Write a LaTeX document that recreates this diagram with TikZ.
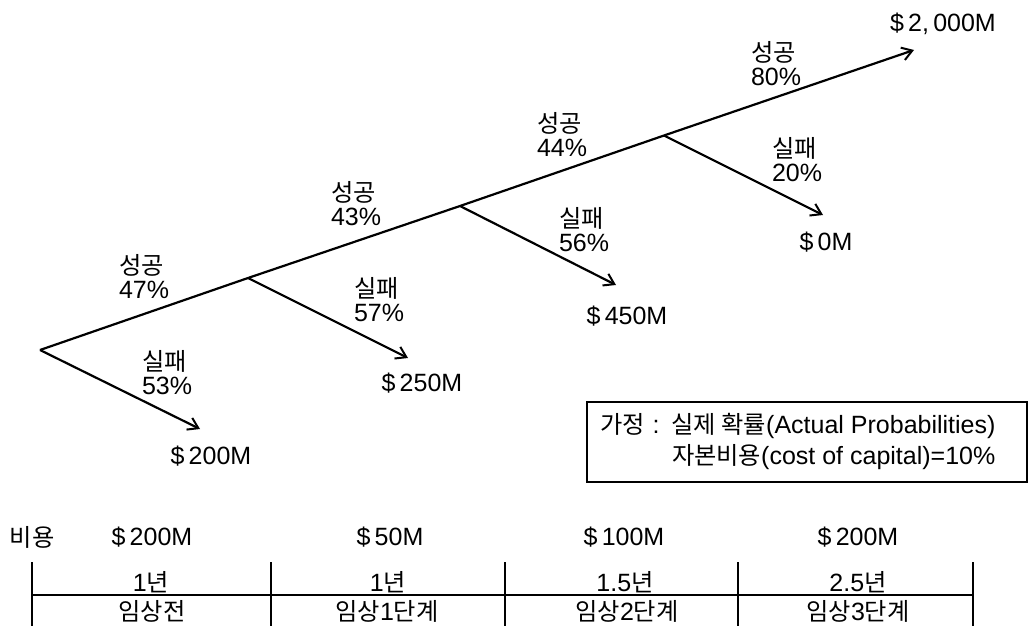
\documentclass[tikz,border=0pt]{standalone}
\usepackage{fontspec}
\setmainfont{Liberation Sans}
\newfontfamily\kr[Scale=0.97]{Noto Sans CJK KR}
\usetikzlibrary{arrows.meta}
\begin{document}
\begin{tikzpicture}[x=1pt,y=-1pt,
  every node/.style={inner sep=0pt, outer sep=0pt, font=\fontsize{25}{24}\selectfont},
  lbl/.style={anchor=west, align=left},
  arr/.style={line width=2.2pt, -{Straight Barb[length=10pt,width=13pt,line width=2pt]}},
  tl/.style={line width=2pt},
  hl/.style={line width=1.6pt}]
\useasboundingbox (0,0) rectangle (1029,626);
% tree junctions
\coordinate (r)  at (40,350);
\coordinate (b1) at (248,278);
\coordinate (b2) at (460,206);
\coordinate (b3) at (664,135.5);
\coordinate (t4) at (914,50);
\coordinate (f0) at (200,429);
\coordinate (f1) at (408,358);
\coordinate (f2) at (616,285);
\coordinate (f3) at (823,215);
% connectors
\draw[arr] (r) -- (b1) -- (b2) -- (b3) -- (t4);
\draw[arr] (r) -- (f0);
\draw[arr] (b1) -- (f1);
\draw[arr] (b2) -- (f2);
\draw[arr] (b3) -- (f3);
% branch labels
\node[lbl] (s1) at (119,277) {{\kr 성공}\\47\%};
\node[lbl] (s2) at (331,204) {{\kr 성공}\\43\%};
\node[lbl] (s3) at (537,135) {{\kr 성공}\\44\%};
\node[lbl] (s4) at (751,64)  {{\kr 성공}\\80\%};
\node[lbl] (p1) at (142,373) {{\kr 실패}\\53\%};
\node[lbl] (p2) at (354,300) {{\kr 실패}\\57\%};
\node[lbl] (p3) at (559,230) {{\kr 실패}\\56\%};
\node[lbl] (p4) at (772,160) {{\kr 실패}\\20\%};
% leaves
\node (l0) at (211,456) {\$\,200M};
\node (l1) at (422,383) {\$\,250M};
\node (l2) at (627,316) {\$\,450M};
\node (l3) at (826,242) {\$\,0M};
\node (l4) at (943,24)  {\$\,2,\,000M};
% assumption box
\node[draw, line width=1.4pt, minimum width=440pt, minimum height=80pt] (box) at (807,442) {};
\node[anchor=west] (a1) at (600,426) {{\kr 가정}\hspace{8pt}:\hspace{12pt}{\kr 실제 확률}(Actual Probabilities)};
\node[anchor=west] (a2) at (672,457) {{\kr 자본비용}(cost of capital)=10\%};
% cost row
\node (cost) at (32,537) {{\kr 비용}};
\node (c1) at (152,537) {\$\,200M};
\node (c2) at (390,537) {\$\,50M};
\node (c3) at (624,537) {\$\,100M};
\node (c4) at (858,537) {\$\,200M};
% timeline
\coordinate (v0t) at (32,562);  \coordinate (v0b) at (32,626);
\coordinate (v1t) at (271,562); \coordinate (v1b) at (271,626);
\coordinate (v2t) at (505,562); \coordinate (v2b) at (505,626);
\coordinate (v3t) at (738,562); \coordinate (v3b) at (738,626);
\coordinate (v4t) at (973,562); \coordinate (v4b) at (973,626);
\coordinate (h0) at (32,595);   \coordinate (h4) at (973,595);
\draw[tl] (v0t) -- (v0b);
\draw[tl] (v1t) -- (v1b);
\draw[tl] (v2t) -- (v2b);
\draw[tl] (v3t) -- (v3b);
\draw[tl] (v4t) -- (v4b);
\draw[hl] (h0) -- (h4);
\node (d1) at (151,582) {1{\kr 년}};
\node (d2) at (388,582) {1{\kr 년}};
\node (d3) at (625,582) {1.5{\kr 년}};
\node (d4) at (858,582) {2.5{\kr 년}};
\node (n1) at (152,611) {{\kr 임상전}};
\node (n2) at (387,611) {{\kr 임상}1{\kr 단계}};
\node (n3) at (627,611) {{\kr 임상}2{\kr 단계}};
\node (n4) at (858,611) {{\kr 임상}3{\kr 단계}};
\end{tikzpicture}
\end{document}
